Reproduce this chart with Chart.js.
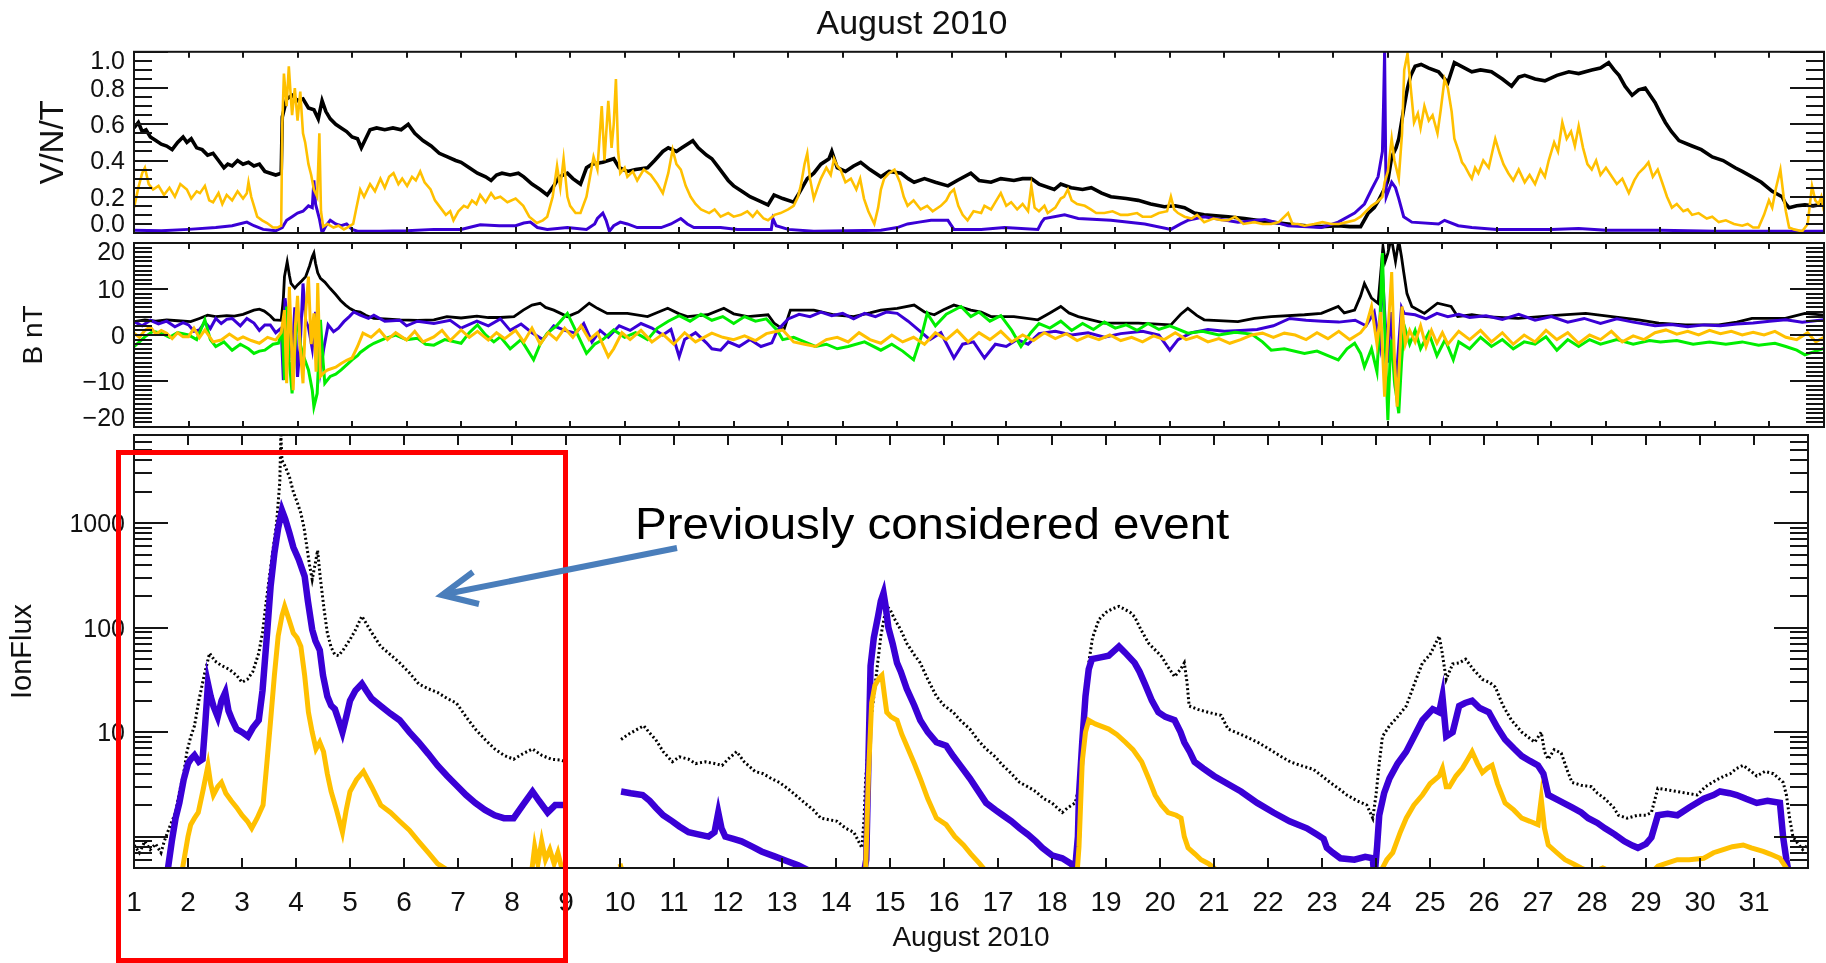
<!DOCTYPE html>
<html>
<head>
<meta charset="utf-8">
<script src="https://cdn.jsdelivr.net/npm/chart.js@4.4.1/dist/chart.umd.min.js"></script>
<style>
  html, body { margin: 0; padding: 0; background: #fff; }
  body { position: relative; width: 1826px; height: 963px; overflow: hidden; }
  canvas { position: absolute; left: 0; }
  #box { position: absolute; left: 116px; top: 450px; width: 452px; height: 513px; box-sizing: border-box; border: 5px solid #ff0000; }
  #arrow { position: absolute; left: 0; top: 0; }
  #note { position: absolute; left: 635px; top: 501px; font: 44px "Liberation Sans", Arial, sans-serif; line-height: 46px; color: #000; white-space: nowrap; transform: scaleX(1.08); transform-origin: left top; }
</style>
</head>
<body>
<canvas id="vnt" width="1826" height="238" style="top:0px"></canvas>
<canvas id="bfield" width="1826" height="193" style="top:238px"></canvas>
<canvas id="ionflux" width="1826" height="532" style="top:431px"></canvas>
<div id="box"></div>
<svg id="arrow" width="1826" height="963">
  <line x1="677" y1="548" x2="446" y2="594" stroke="#4a7ebb" stroke-width="6"/>
  <polyline points="473,572 442,595 479,604" fill="none" stroke="#4a7ebb" stroke-width="6" stroke-linejoin="miter"/>
</svg>
<div id="note">Previously considered event</div>
<script>
// day of month on every panel; 32 = end of the month
const days = [1,2,3,4,5,6,7,8,9,10,11,12,13,14,15,16,17,18,19,20,21,22,23,24,25,26,27,28,29,30,31,32];

// ---- panel 1: V/N/T (normalised) ----
const vntTicks = [0, 0.2, 0.4, 0.6, 0.8, 1.0];
const vntLabels = ["0.0", "0.2", "0.4", "0.6", "0.8", "1.0"];

const vntBlack = [[1.0,0.58],[1.08,0.61],[1.15,0.56],[1.22,0.57],[1.3,0.53],[1.4,0.51],[1.5,0.49],[1.6,0.48],[1.7,0.46],[1.8,0.5],[1.9,0.53],[1.97,0.5],[2.05,0.52],[2.15,0.47],[2.25,0.46],[2.35,0.43],[2.45,0.44],[2.55,0.4],[2.65,0.36],[2.72,0.38],[2.8,0.37],[2.9,0.4],[3.0,0.38],[3.1,0.39],[3.2,0.37],[3.3,0.38],[3.4,0.34],[3.5,0.33],[3.6,0.32],[3.7,0.33],[3.72,0.64],[3.8,0.74],[3.9,0.76],[4.0,0.73],[4.1,0.74],[4.2,0.69],[4.3,0.68],[4.38,0.63],[4.45,0.73],[4.52,0.67],[4.6,0.63],[4.7,0.6],[4.8,0.58],[4.9,0.56],[5.0,0.53],[5.1,0.52],[5.17,0.47],[5.25,0.52],[5.33,0.57],[5.45,0.58],[5.6,0.57],[5.75,0.58],[5.9,0.57],[6.03,0.6],[6.15,0.55],[6.3,0.51],[6.45,0.48],[6.6,0.44],[6.75,0.42],[6.9,0.4],[7.0,0.39],[7.15,0.36],[7.3,0.33],[7.45,0.31],[7.55,0.29],[7.65,0.32],[7.75,0.33],[7.9,0.32],[8.05,0.33],[8.15,0.31],[8.3,0.27],[8.45,0.24],[8.58,0.21],[8.7,0.26],[8.8,0.31],[8.95,0.33],[9.05,0.3],[9.19,0.27],[9.3,0.36],[9.4,0.38],[9.6,0.39],[9.8,0.41],[9.9,0.36],[10.05,0.34],[10.2,0.35],[10.42,0.36],[10.55,0.4],[10.7,0.45],[10.8,0.47],[10.95,0.45],[11.05,0.47],[11.2,0.5],[11.25,0.51],[11.35,0.47],[11.5,0.43],[11.6,0.41],[11.7,0.37],[11.8,0.33],[11.9,0.29],[12.0,0.26],[12.15,0.23],[12.3,0.2],[12.45,0.18],[12.63,0.155],[12.74,0.21],[12.9,0.19],[13.1,0.17],[13.2,0.22],[13.35,0.3],[13.47,0.33],[13.6,0.38],[13.75,0.41],[13.8,0.45],[13.9,0.36],[14.05,0.34],[14.2,0.37],[14.33,0.39],[14.5,0.35],[14.7,0.31],[14.85,0.34],[15.07,0.33],[15.2,0.3],[15.31,0.28],[15.5,0.3],[15.7,0.28],[15.93,0.26],[16.1,0.29],[16.35,0.33],[16.5,0.29],[16.72,0.28],[16.9,0.3],[17.14,0.29],[17.3,0.3],[17.46,0.3],[17.6,0.27],[17.88,0.24],[18.0,0.27],[18.19,0.25],[18.4,0.24],[18.56,0.25],[18.75,0.22],[18.92,0.2],[19.2,0.19],[19.42,0.18],[19.65,0.16],[19.9,0.145],[20.1,0.15],[20.27,0.14],[20.45,0.11],[20.63,0.1],[20.85,0.095],[21.07,0.09],[21.37,0.08],[21.6,0.07],[21.86,0.06],[22.17,0.05],[22.5,0.04],[22.78,0.035],[23.09,0.04],[23.3,0.035],[23.5,0.035],[23.64,0.11],[23.75,0.14],[23.83,0.18],[23.95,0.25],[24.0,0.29],[24.07,0.42],[24.15,0.47],[24.2,0.52],[24.3,0.7],[24.36,0.8],[24.42,0.87],[24.5,0.92],[24.61,0.93],[24.75,0.91],[24.93,0.89],[25.1,0.83],[25.22,0.94],[25.35,0.92],[25.54,0.89],[25.7,0.9],[25.9,0.89],[26.1,0.85],[26.27,0.81],[26.4,0.86],[26.51,0.87],[26.7,0.85],[26.88,0.84],[27.1,0.87],[27.32,0.89],[27.5,0.88],[27.74,0.9],[27.9,0.91],[28.05,0.94],[28.15,0.9],[28.24,0.87],[28.35,0.81],[28.48,0.76],[28.6,0.79],[28.72,0.8],[28.9,0.72],[29.0,0.66],[29.09,0.61],[29.2,0.56],[29.34,0.51],[29.58,0.48],[29.75,0.46],[29.95,0.42],[30.15,0.4],[30.37,0.36],[30.5,0.34],[30.68,0.31],[30.85,0.28],[31.05,0.23],[31.23,0.2],[31.3,0.16],[31.36,0.14],[31.5,0.15],[31.65,0.155],[31.8,0.15],[32.0,0.16]];

const vntGold = [[1.0,0.14],[1.08,0.25],[1.15,0.33],[1.2,0.36],[1.27,0.27],[1.35,0.24],[1.45,0.26],[1.55,0.21],[1.65,0.25],[1.75,0.2],[1.85,0.27],[1.97,0.24],[2.05,0.19],[2.15,0.23],[2.21,0.22],[2.3,0.26],[2.38,0.18],[2.45,0.17],[2.55,0.22],[2.62,0.16],[2.7,0.21],[2.8,0.18],[2.9,0.23],[3.0,0.19],[3.07,0.22],[3.1,0.28],[3.15,0.2],[3.26,0.09],[3.35,0.07],[3.44,0.055],[3.55,0.03],[3.63,0.03],[3.7,0.04],[3.72,0.6],[3.75,0.88],[3.8,0.7],[3.84,0.92],[3.87,0.78],[3.9,0.65],[3.95,0.8],[4.0,0.62],[4.05,0.78],[4.1,0.55],[4.14,0.5],[4.2,0.38],[4.25,0.32],[4.3,0.24],[4.36,0.2],[4.4,0.55],[4.43,0.12],[4.47,0.035],[4.55,0.05],[4.66,0.03],[4.75,0.04],[4.85,0.02],[4.91,0.03],[5.02,0.05],[5.08,0.14],[5.15,0.24],[5.22,0.2],[5.33,0.27],[5.42,0.23],[5.52,0.3],[5.6,0.25],[5.68,0.31],[5.76,0.33],[5.85,0.27],[5.92,0.3],[6.01,0.26],[6.1,0.31],[6.17,0.29],[6.25,0.34],[6.33,0.28],[6.44,0.24],[6.52,0.18],[6.62,0.14],[6.72,0.1],[6.8,0.12],[6.86,0.07],[6.95,0.12],[7.05,0.15],[7.12,0.14],[7.2,0.18],[7.28,0.16],[7.35,0.21],[7.45,0.17],[7.55,0.22],[7.62,0.19],[7.72,0.2],[7.85,0.17],[8.0,0.19],[8.14,0.15],[8.25,0.09],[8.39,0.055],[8.5,0.07],[8.58,0.09],[8.68,0.2],[8.76,0.37],[8.82,0.25],[8.88,0.41],[8.95,0.2],[9.0,0.15],[9.1,0.11],[9.19,0.11],[9.3,0.2],[9.43,0.42],[9.5,0.35],[9.58,0.7],[9.63,0.4],[9.7,0.73],[9.76,0.47],[9.8,0.6],[9.84,0.85],[9.88,0.45],[9.92,0.33],[10.0,0.36],[10.05,0.31],[10.15,0.34],[10.23,0.29],[10.35,0.35],[10.48,0.32],[10.6,0.27],[10.7,0.22],[10.8,0.33],[10.88,0.46],[10.95,0.38],[11.03,0.35],[11.12,0.26],[11.21,0.2],[11.3,0.16],[11.4,0.13],[11.55,0.11],[11.65,0.13],[11.76,0.09],[11.9,0.11],[12.0,0.09],[12.13,0.1],[12.25,0.12],[12.35,0.09],[12.43,0.12],[12.55,0.08],[12.63,0.07],[12.75,0.1],[12.86,0.11],[13.0,0.13],[13.1,0.15],[13.18,0.2],[13.23,0.26],[13.3,0.38],[13.35,0.44],[13.4,0.3],[13.47,0.19],[13.55,0.26],[13.6,0.3],[13.7,0.36],[13.78,0.32],[13.84,0.41],[13.9,0.37],[13.96,0.35],[14.05,0.28],[14.15,0.3],[14.25,0.24],[14.32,0.3],[14.39,0.19],[14.47,0.12],[14.58,0.05],[14.65,0.14],[14.7,0.24],[14.76,0.3],[14.85,0.33],[14.95,0.35],[15.05,0.28],[15.12,0.2],[15.19,0.15],[15.3,0.18],[15.43,0.13],[15.55,0.15],[15.65,0.12],[15.8,0.15],[15.9,0.18],[15.97,0.22],[16.04,0.24],[16.12,0.15],[16.2,0.1],[16.29,0.07],[16.4,0.12],[16.54,0.11],[16.6,0.15],[16.72,0.13],[16.8,0.17],[16.9,0.22],[17.0,0.15],[17.09,0.17],[17.2,0.13],[17.3,0.16],[17.4,0.12],[17.46,0.26],[17.52,0.14],[17.6,0.12],[17.7,0.15],[17.76,0.11],[17.9,0.14],[18.0,0.19],[18.06,0.2],[18.13,0.24],[18.2,0.18],[18.3,0.16],[18.44,0.15],[18.55,0.13],[18.65,0.11],[18.8,0.11],[18.95,0.12],[19.1,0.1],[19.23,0.1],[19.4,0.11],[19.5,0.09],[19.66,0.09],[19.8,0.11],[19.95,0.12],[20.02,0.2],[20.08,0.13],[20.15,0.11],[20.27,0.09],[20.4,0.08],[20.5,0.1],[20.63,0.06],[20.8,0.08],[20.95,0.07],[21.07,0.07],[21.2,0.09],[21.35,0.05],[21.55,0.06],[21.7,0.05],[21.86,0.05],[22.0,0.06],[22.17,0.11],[22.25,0.05],[22.35,0.05],[22.47,0.04],[22.65,0.05],[22.8,0.06],[22.96,0.05],[23.1,0.05],[23.25,0.06],[23.39,0.07],[23.5,0.09],[23.6,0.12],[23.7,0.15],[23.8,0.17],[23.9,0.2],[23.94,0.28],[24.0,0.34],[24.07,0.52],[24.12,0.4],[24.2,0.3],[24.26,0.55],[24.3,0.9],[24.36,0.99],[24.42,0.8],[24.48,0.61],[24.55,0.66],[24.6,0.58],[24.67,0.7],[24.75,0.62],[24.82,0.65],[24.91,0.55],[24.97,0.68],[25.04,0.85],[25.1,0.8],[25.17,0.67],[25.22,0.52],[25.3,0.45],[25.36,0.39],[25.41,0.37],[25.5,0.32],[25.54,0.3],[25.6,0.36],[25.66,0.33],[25.75,0.4],[25.85,0.36],[25.97,0.52],[26.05,0.44],[26.12,0.38],[26.21,0.33],[26.3,0.29],[26.4,0.35],[26.51,0.28],[26.6,0.32],[26.7,0.27],[26.8,0.35],[26.88,0.31],[26.95,0.4],[27.05,0.5],[27.12,0.45],[27.2,0.61],[27.28,0.52],[27.36,0.56],[27.43,0.48],[27.5,0.59],[27.58,0.47],[27.66,0.38],[27.74,0.35],[27.82,0.4],[27.9,0.32],[28.0,0.36],[28.11,0.31],[28.2,0.27],[28.3,0.3],[28.42,0.22],[28.52,0.29],[28.6,0.33],[28.7,0.36],[28.78,0.39],[28.86,0.31],[28.95,0.35],[29.03,0.28],[29.12,0.2],[29.21,0.14],[29.3,0.16],[29.42,0.12],[29.5,0.13],[29.58,0.1],[29.7,0.11],[29.85,0.08],[29.95,0.09],[30.07,0.06],[30.2,0.07],[30.35,0.05],[30.5,0.04],[30.6,0.05],[30.7,0.03],[30.8,0.03],[30.9,0.1],[30.99,0.18],[31.05,0.14],[31.12,0.25],[31.2,0.35],[31.26,0.2],[31.3,0.12],[31.36,0.03],[31.45,0.02],[31.6,0.01],[31.7,0.05],[31.78,0.26],[31.84,0.18],[31.9,0.16],[31.95,0.2],[32.0,0.12]];

const vntBlue = [[1.0,0.015],[1.5,0.012],[2.0,0.02],[2.5,0.03],[2.8,0.04],[3.07,0.06],[3.2,0.04],[3.37,0.02],[3.6,0.012],[3.72,0.03],[3.8,0.07],[3.9,0.09],[4.0,0.11],[4.1,0.12],[4.2,0.15],[4.27,0.14],[4.3,0.29],[4.33,0.16],[4.4,0.08],[4.45,0.0],[4.52,0.04],[4.6,0.07],[4.7,0.05],[4.8,0.04],[4.9,0.05],[5.0,0.02],[5.1,0.01],[5.5,0.01],[6.0,0.012],[6.5,0.02],[7.0,0.02],[7.35,0.045],[7.7,0.04],[8.0,0.04],[8.15,0.055],[8.27,0.06],[8.4,0.03],[8.58,0.02],[8.95,0.03],[9.3,0.02],[9.45,0.05],[9.5,0.08],[9.6,0.11],[9.66,0.07],[9.72,0.01],[9.8,0.04],[9.92,0.06],[10.05,0.05],[10.23,0.03],[10.67,0.03],[10.85,0.05],[11.03,0.08],[11.15,0.05],[11.27,0.03],[11.76,0.03],[12.07,0.02],[12.69,0.02],[12.72,0.08],[12.78,0.04],[13.0,0.02],[13.47,0.01],[14.7,0.015],[15.0,0.03],[15.19,0.05],[15.4,0.06],[15.62,0.07],[15.93,0.07],[16.04,0.02],[16.54,0.02],[16.97,0.03],[17.58,0.02],[17.65,0.06],[17.7,0.08],[18.07,0.1],[18.32,0.08],[18.92,0.07],[19.54,0.05],[20.02,0.02],[20.2,0.05],[20.33,0.07],[20.63,0.09],[21.25,0.06],[21.74,0.075],[22.17,0.04],[22.78,0.03],[23.09,0.06],[23.39,0.11],[23.57,0.16],[23.7,0.24],[23.82,0.31],[23.9,0.45],[23.92,0.7],[23.94,1.0],[23.96,0.4],[23.97,0.2],[24.07,0.28],[24.14,0.25],[24.2,0.19],[24.29,0.09],[24.44,0.06],[24.93,0.05],[25.04,0.07],[25.29,0.04],[25.54,0.03],[26.0,0.02],[27.0,0.02],[27.5,0.025],[28.0,0.015],[29.0,0.015],[30.0,0.01],[31.0,0.01],[32.0,0.01]];

// ---- panel 2: B nT ----
const bTicks = [-20, -10, 0, 10, 20];
const bLabels = ["\u221220", "\u221210", "0", "10", "20"];

const bBlack = [[1.0,2.9],[1.2,3.3],[1.4,3.0],[1.6,3.3],[1.8,3.1],[2.04,2.9],[2.2,3.6],[2.35,4.3],[2.5,4.0],[2.7,4.2],[2.84,4.1],[3.0,4.5],[3.2,5.4],[3.3,5.6],[3.39,5.2],[3.5,4.2],[3.57,3.3],[3.7,3.2],[3.74,8],[3.76,12.7],[3.81,15.9],[3.85,13],[3.88,11.2],[3.95,10.2],[4.0,10.9],[4.08,11.8],[4.15,12.7],[4.22,15],[4.27,17.0],[4.3,17.8],[4.33,15.6],[4.37,13.5],[4.42,12.3],[4.5,11.5],[4.6,10.1],[4.7,8.8],[4.79,7.5],[4.88,6.5],[4.97,5.7],[5.05,5.2],[5.15,5.0],[5.25,4.3],[5.4,3.6],[5.6,3.5],[5.88,3.3],[6.2,3.2],[6.5,3.3],[6.74,4.0],[7.0,3.7],[7.29,4.1],[7.5,3.8],[7.72,3.8],[7.97,4.0],[8.14,5.4],[8.3,6.5],[8.45,6.9],[8.55,6.0],[8.7,5.4],[8.95,4.0],[9.15,5.0],[9.35,6.9],[9.5,5.8],[9.68,4.7],[10.05,4.7],[10.42,4.0],[10.6,4.9],[10.79,5.8],[11.0,4.6],[11.15,4.0],[11.52,4.4],[11.82,5.8],[12.0,4.6],[12.26,4.0],[12.63,4.4],[12.74,2.6],[12.92,1.1],[13.04,5.4],[13.47,5.4],[13.84,4.4],[14.2,4.0],[14.5,4.8],[14.7,5.4],[15.0,5.8],[15.31,6.5],[15.5,5.0],[15.68,4.4],[15.85,5.5],[16.04,6.5],[16.35,5.4],[16.54,5.0],[16.72,4.0],[17.14,4.0],[17.58,3.3],[17.8,4.8],[18.0,6.2],[18.15,4.8],[18.32,4.0],[18.8,2.6],[19.42,2.6],[20.02,2.2],[20.2,4.5],[20.33,5.8],[20.5,4.2],[20.63,3.3],[21.25,2.9],[21.55,3.6],[21.86,4.0],[22.47,4.4],[22.78,4.7],[23.09,6.2],[23.2,4.8],[23.39,5.4],[23.5,8.5],[23.57,11.2],[23.7,8],[23.82,6.9],[23.88,15],[23.91,19.2],[23.95,16],[24.0,17.8],[24.05,20.5],[24.08,20],[24.14,16],[24.2,20.5],[24.25,17],[24.29,13.7],[24.35,9],[24.44,6.2],[24.67,4.7],[24.91,6.9],[25.16,6.2],[25.28,4.0],[25.54,4.4],[25.78,4.0],[26.39,3.6],[26.8,4.0],[27.14,4.3],[27.63,4.7],[28.11,4.0],[28.6,3.3],[28.97,2.6],[29.46,2.2],[30.07,2.2],[30.4,2.8],[30.68,3.6],[31.29,3.6],[31.65,4.7],[32.0,4.3]];

const bBlue = [[1.0,2.9],[1.15,2.0],[1.3,3.2],[1.45,2.4],[1.6,3.0],[1.75,1.8],[1.9,2.7],[2.0,2.2],[2.1,0.8],[2.2,1.1],[2.3,2.8],[2.4,1.4],[2.5,3.6],[2.6,2.5],[2.7,3.4],[2.8,3.6],[2.95,2.0],[3.07,3.6],[3.2,2.6],[3.3,1.0],[3.4,2.2],[3.5,2.2],[3.6,0.5],[3.7,1.5],[3.74,-9.8],[3.77,8.0],[3.8,5],[3.85,1.2],[3.9,-5],[3.95,6],[4.0,-9.1],[4.05,-2],[4.1,11.2],[4.15,3],[4.2,1.7],[4.27,-3],[4.33,5],[4.38,-1],[4.42,-7.7],[4.48,-3],[4.56,2.2],[4.66,0.7],[4.75,1.5],[4.85,2.9],[4.95,4.0],[5.03,5.0],[5.15,4.3],[5.3,3.6],[5.4,4.3],[5.6,3.0],[5.88,3.2],[6.0,2.0],[6.2,3.0],[6.5,2.5],[6.8,3.2],[7.0,1.5],[7.29,3.0],[7.5,2.0],[7.72,3.5],[7.9,1.0],[8.1,2.4],[8.3,0.5],[8.5,-1.0],[8.7,2.0],[8.9,1.0],[9.1,0.4],[9.25,2.5],[9.4,-1.5],[9.55,1.0],[9.7,-0.5],[9.9,2.0],[10.1,1.0],[10.3,2.5],[10.5,1.5],[10.7,0.0],[10.85,1.2],[11.0,-4.7],[11.1,-1.0],[11.3,0.5],[11.5,-1.7],[11.6,-3.0],[11.76,-3.3],[11.9,-1.5],[12.1,-2.5],[12.3,-1.0],[12.5,-2.5],[12.7,-1.7],[12.8,1.0],[13.0,3.5],[13.2,4.5],[13.4,4.0],[13.6,5.0],[13.8,4.2],[14.0,4.7],[14.2,3.5],[14.4,4.7],[14.6,4.0],[14.8,5.0],[15.0,4.7],[15.2,3.0],[15.4,1.0],[15.6,-1.0],[15.8,0.5],[16.04,-5.0],[16.2,-2.0],[16.4,-1.5],[16.6,-5.0],[16.8,-2.0],[17.0,-2.5],[17.2,-1.0],[17.4,-2.0],[17.6,0.3],[17.9,0.8],[18.2,0.0],[18.5,0.5],[18.8,-0.5],[19.1,0.3],[19.5,0.8],[19.8,0.0],[20.0,-3.3],[20.15,-1.0],[20.4,0.5],[20.7,1.2],[21.0,0.8],[21.3,1.0],[21.6,1.2],[21.9,2.0],[22.2,3.6],[22.5,3.2],[22.8,3.0],[23.1,2.8],[23.4,3.2],[23.6,2.0],[23.75,5],[23.85,-2],[23.9,13.7],[23.95,3],[24.0,-6],[24.05,5],[24.1,-3],[24.14,-12],[24.2,-2],[24.25,6],[24.3,4.7],[24.5,4.4],[24.7,3.5],[24.9,4.7],[25.1,4.0],[25.3,4.5],[25.5,3.8],[25.8,4.2],[26.1,3.4],[26.4,4.5],[26.7,3.2],[27.0,4.0],[27.3,2.8],[27.6,3.6],[27.9,2.5],[28.2,3.5],[28.5,2.8],[28.9,2.0],[29.2,2.3],[29.5,1.8],[29.8,2.2],[30.1,2.0],[30.4,2.4],[30.7,2.6],[31.0,3.0],[31.3,3.3],[31.6,2.8],[32.0,3.3]];

const bGreen = [[1.0,-2.5],[1.1,-1.5],[1.2,-0.4],[1.35,0.8],[1.5,0.4],[1.65,-0.5],[1.8,0.5],[2.0,0.0],[2.15,-1.0],[2.3,3.3],[2.4,-1.0],[2.5,-2.5],[2.65,-1.5],[2.8,-3.3],[2.95,-2.0],[3.1,-3.0],[3.2,-4.0],[3.3,-3.5],[3.4,-3.3],[3.55,-2.0],[3.65,-1.8],[3.72,1.1],[3.76,-9.8],[3.8,6.2],[3.85,-5.8],[3.9,-12.7],[3.95,-3],[4.0,5.4],[4.05,-2],[4.1,-4.3],[4.2,-7.6],[4.27,-12],[4.3,-15.6],[4.36,-12.7],[4.42,3.3],[4.47,-6],[4.5,-10.5],[4.6,-9.0],[4.7,-8.5],[4.8,-7.6],[4.9,-6.5],[5.0,-5.4],[5.1,-4.5],[5.15,-3.8],[5.3,-2.5],[5.4,-1.8],[5.6,-0.8],[5.8,0.0],[6.0,-1.0],[6.2,-0.7],[6.35,-2.0],[6.5,-2.2],[6.7,-1.0],[7.0,-1.8],[7.15,0.5],[7.3,2.2],[7.45,0.0],[7.6,-1.5],[7.72,-0.4],[7.9,-3.0],[8.1,-1.0],[8.33,-5.4],[8.45,-2.0],[8.58,0.4],[8.75,2.0],[8.95,4.7],[9.1,1.0],[9.3,-4.0],[9.45,-2.0],[9.6,-1.0],[9.8,1.1],[10.0,-0.5],[10.2,0.5],[10.42,-1.0],[10.6,1.5],[10.8,3.0],[11.0,4.2],[11.2,3.0],[11.4,4.5],[11.6,3.2],[11.8,4.0],[12.0,2.5],[12.2,4.0],[12.4,3.0],[12.6,3.5],[12.8,1.0],[12.9,-1.0],[13.1,-0.5],[13.3,-1.5],[13.5,-2.5],[13.7,-2.0],[13.9,-3.0],[14.1,-2.5],[14.4,-1.5],[14.7,-3.3],[14.9,-2.0],[15.1,-3.5],[15.3,-5.4],[15.45,0.0],[15.55,4.7],[15.7,2.0],[15.9,4.5],[16.17,6.2],[16.35,4.0],[16.5,5.0],[16.7,3.0],[16.9,4.2],[17.1,1.0],[17.27,-2.5],[17.45,0.5],[17.6,2.5],[17.8,1.5],[18.0,3.0],[18.2,1.0],[18.4,2.5],[18.6,1.2],[18.8,2.8],[19.0,1.5],[19.2,2.2],[19.4,1.0],[19.6,2.5],[19.8,1.2],[20.0,2.0],[20.33,0.4],[20.6,0.8],[20.9,0.0],[21.2,0.6],[21.5,0.2],[21.7,-1.5],[21.86,-3.3],[22.1,-3.0],[22.47,-4.0],[22.7,-3.5],[22.9,-4.5],[23.09,-5.4],[23.25,-3.0],[23.39,-1.8],[23.5,-4],[23.57,-6.9],[23.7,-3],[23.8,-8],[23.86,5],[23.9,17.8],[23.94,2],[24.0,-18.5],[24.04,-5],[24.07,-1.0],[24.12,-10],[24.2,-17],[24.25,-6],[24.3,2.0],[24.4,-2.0],[24.5,1.0],[24.6,-3.0],[24.75,0.5],[24.9,-4.5],[25.05,-1.0],[25.2,-5.4],[25.3,-1.5],[25.5,-3.0],[25.7,-0.5],[25.9,-2.5],[26.1,-1.0],[26.3,-3.0],[26.5,-1.5],[26.7,-2.0],[26.9,-0.4],[27.1,-3.3],[27.3,-1.0],[27.5,-2.5],[27.7,-1.0],[27.9,-2.0],[28.2,-1.0],[28.5,-2.0],[28.8,-1.2],[29.0,-1.5],[29.3,-1.2],[29.6,-2.0],[29.9,-1.5],[30.2,-2.0],[30.5,-1.5],[30.8,-2.2],[31.1,-1.8],[31.3,-2.5],[31.5,-3.3],[31.65,-4.3],[31.85,-3.5],[32.0,-2.9]];

const bGold = [[1.0,0.4],[1.1,-0.5],[1.2,1.0],[1.3,1.8],[1.4,0.2],[1.5,1.0],[1.6,0.4],[1.7,-0.8],[1.8,0.5],[1.9,-0.4],[2.0,-0.4],[2.1,1.5],[2.2,-0.6],[2.3,1.1],[2.45,-1.5],[2.6,-1.1],[2.75,0.2],[2.9,-1.0],[3.0,-0.4],[3.15,-1.2],[3.3,-1.8],[3.45,-0.5],[3.6,-1.1],[3.7,0.5],[3.76,5.4],[3.8,-10.5],[3.85,10.5],[3.92,-12],[3.96,2],[4.0,8.5],[4.05,-3],[4.1,-10.5],[4.15,5],[4.2,12.7],[4.25,-2],[4.3,4.7],[4.34,-8],[4.37,11.3],[4.42,-9.0],[4.5,-8.0],[4.55,-7.6],[4.7,-7.0],[4.8,-6.2],[4.9,-5.5],[5.0,-5.0],[5.1,-2.5],[5.2,0.4],[5.35,-0.5],[5.5,1.1],[5.65,-1.0],[5.8,0.5],[6.0,-1.1],[6.15,0.8],[6.3,-1.5],[6.5,-0.4],[6.65,1.0],[6.8,-1.2],[7.0,1.1],[7.15,-0.5],[7.3,0.8],[7.5,-1.1],[7.65,0.5],[7.8,-0.8],[8.0,1.0],[8.15,-1.5],[8.3,1.5],[8.45,-2.0],[8.6,0.5],[8.75,-1.0],[8.9,1.5],[9.05,-0.5],[9.2,2.0],[9.35,-1.0],[9.5,0.5],[9.7,-4.7],[9.8,-3.0],[9.95,0.5],[10.1,-1.0],[10.3,1.0],[10.5,-1.5],[10.7,0.2],[10.9,-2.0],[11.1,0.5],[11.3,-1.5],[11.6,0.4],[11.8,-0.5],[12.0,-1.0],[12.2,-0.2],[12.4,-1.2],[12.6,0.3],[12.9,1.1],[13.1,-1.5],[13.3,-2.0],[13.5,-2.5],[13.7,-1.0],[13.9,-0.5],[14.1,-1.5],[14.3,0.5],[14.5,-1.0],[14.7,-1.8],[14.9,0.0],[15.1,-1.5],[15.3,-0.5],[15.5,-2.0],[15.7,0.5],[15.9,-1.0],[16.1,1.0],[16.3,-1.5],[16.5,0.5],[16.7,-1.0],[16.9,0.8],[17.1,-1.5],[17.3,0.0],[17.5,-1.2],[17.7,0.5],[17.9,-0.8],[18.1,0.3],[18.3,-1.2],[18.5,-0.2],[18.7,-1.0],[18.9,0.0],[19.1,-1.2],[19.3,-0.5],[19.5,-1.5],[19.7,-0.2],[19.9,-1.0],[20.1,0.5],[20.3,-1.0],[20.5,-0.3],[20.7,-1.5],[20.9,-0.8],[21.1,-1.8],[21.3,-1.0],[21.5,0.0],[21.7,0.4],[21.9,-0.5],[22.1,0.4],[22.3,0.0],[22.5,-1.0],[22.7,0.5],[22.9,-0.8],[23.1,0.8],[23.3,-1.0],[23.5,0.5],[23.6,2.0],[23.7,6.2],[23.8,-2],[23.87,5],[23.94,-13.4],[24.0,0],[24.07,13.7],[24.12,-5],[24.17,-15.6],[24.22,-4],[24.26,6.2],[24.32,-2],[24.4,1.0],[24.5,-1.5],[24.6,2.0],[24.7,-2.5],[24.8,1.0],[24.9,-1.8],[25.0,0.5],[25.1,-2.0],[25.3,0.8],[25.5,-1.0],[25.7,1.0],[25.9,-1.5],[26.1,0.5],[26.3,-2.0],[26.5,0.0],[26.7,-1.5],[26.9,1.0],[27.1,-1.0],[27.3,0.5],[27.5,-1.8],[27.7,0.0],[27.9,-1.0],[28.1,0.8],[28.3,-1.5],[28.5,-0.2],[28.7,-1.0],[28.9,0.5],[29.1,1.1],[29.3,0.2],[29.5,0.8],[29.7,0.0],[29.9,1.0],[30.1,0.3],[30.3,0.8],[30.5,0.0],[30.7,0.6],[30.9,0.0],[31.1,0.8],[31.3,-0.5],[31.5,-1.0],[31.7,0.5],[31.85,-1.5],[32.0,-0.5]];

// ---- panel 3: IonFlux (log) ----
const fluxTicks = [1, 10, 100, 1000];
const fluxLabels = ["", "10", "100", "1000"];  // the "1" sits under the red box in the original

const fluxBlack = [[1.0,0.83],[1.1,0.7],[1.2,0.9],[1.3,0.75],[1.4,0.85],[1.5,0.7],[1.56,0.9],[1.65,1.2],[1.77,1.7],[1.85,2.8],[1.92,4.0],[1.98,6.5],[2.05,9],[2.12,11.5],[2.2,20],[2.3,35],[2.4,57],[2.5,48],[2.6,44],[2.76,40],[2.9,35],[3.0,30],[3.1,32],[3.2,38],[3.31,57],[3.38,90],[3.46,199],[3.55,450],[3.64,1000],[3.7,2500],[3.72,7000],[3.74,4000],[3.8,3500],[3.88,2760],[3.95,2000],[4.02,1600],[4.09,1250],[4.15,900],[4.2,600],[4.25,400],[4.3,290],[4.36,420],[4.4,550],[4.45,300],[4.52,150],[4.58,89],[4.65,65],[4.72,55],[4.79,54],[4.88,62],[5.0,77],[5.1,95],[5.22,129],[5.3,110],[5.4,90],[5.57,66],[5.7,58],[5.92,46],[6.1,37],[6.27,29],[6.45,26],[6.62,24],[6.8,21],[6.97,19],[7.15,14],[7.32,10.7],[7.5,8.5],[7.68,6.9],[7.85,6.0],[8.03,5.5],[8.2,6.2],[8.38,6.9],[8.55,6.0],[8.73,5.5],[8.9,5.4],[9.0,5.2],[9.5,null],[10.02,8.5],[10.15,9.5],[10.3,10.5],[10.44,11.5],[10.55,9.8],[10.66,8.5],[10.8,6.5],[10.97,5.2],[11.1,5.8],[11.27,5.5],[11.4,5.0],[11.58,5.2],[11.75,5.0],[11.89,4.8],[12.0,5.5],[12.16,6.5],[12.3,5.2],[12.5,4.2],[12.65,4.0],[12.8,3.6],[12.95,3.3],[13.1,2.9],[13.25,2.5],[13.42,2.1],[13.58,1.8],[13.72,1.5],[13.87,1.45],[14.02,1.4],[14.18,1.2],[14.33,1.1],[14.48,0.78],[14.52,1.5],[14.55,3.6],[14.62,10],[14.7,22],[14.77,45],[14.83,83],[14.9,130],[14.94,160],[15.0,150],[15.07,125],[15.2,95],[15.31,71],[15.45,55],[15.56,46],[15.7,32],[15.86,22],[16.0,18],[16.17,15.5],[16.3,13],[16.48,10.7],[16.62,8.5],[16.78,6.9],[16.95,5.8],[17.09,4.8],[17.25,4.0],[17.4,3.3],[17.55,3.0],[17.7,2.7],[17.85,2.3],[18.0,2.1],[18.19,1.7],[18.3,1.9],[18.43,2.1],[18.5,3.0],[18.56,5.2],[18.62,15],[18.68,46],[18.75,80],[18.87,120],[19.0,140],[19.1,150],[19.24,160],[19.35,150],[19.45,140],[19.53,127],[19.65,95],[19.79,71],[19.9,62],[20.03,53],[20.15,42],[20.27,34],[20.38,40],[20.45,46],[20.5,30],[20.54,17.8],[20.7,16.5],[20.89,15.5],[21.0,15],[21.13,14.5],[21.26,10.7],[21.5,9.5],[21.81,8.0],[22.1,6.5],[22.25,5.8],[22.41,5.2],[22.6,4.8],[22.84,4.4],[23.0,3.8],[23.15,3.3],[23.3,2.9],[23.46,2.5],[23.65,2.2],[23.83,2.0],[23.94,1.5],[24.0,2.5],[24.06,5],[24.12,9.1],[24.25,11.5],[24.4,14],[24.56,17.8],[24.7,28],[24.86,46],[25.0,55],[25.1,70],[25.17,83],[25.22,60],[25.3,32],[25.42,45],[25.54,46],[25.66,50],[25.8,40],[25.97,32],[26.1,30],[26.21,27],[26.35,18],[26.51,13],[26.7,10],[26.94,8],[27.06,10],[27.12,6.5],[27.19,5.5],[27.3,6.8],[27.43,6.3],[27.55,4.2],[27.63,3.3],[27.8,3.1],[27.99,3.0],[28.1,2.6],[28.24,2.3],[28.4,1.9],[28.49,1.6],[28.65,1.5],[28.85,1.6],[29.0,1.6],[29.1,1.7],[29.22,2.9],[29.4,2.8],[29.58,2.7],[29.75,2.6],[29.95,2.5],[30.1,3.0],[30.31,3.5],[30.45,3.8],[30.56,4.0],[30.68,4.5],[30.8,4.8],[30.95,4.2],[31.05,3.8],[31.2,4.2],[31.36,4.0],[31.54,3.3],[31.6,2.5],[31.66,1.5],[31.72,1.0],[31.78,0.9],[31.9,0.75],[32.0,0.83]];

const fluxBlue = [[1.0,0.3],[1.5,0.3],[1.63,0.5],[1.7,0.9],[1.77,1.5],[1.84,2.1],[1.92,3.5],[2.0,5],[2.05,5.5],[2.12,6],[2.2,5.2],[2.27,5.5],[2.32,12],[2.37,29],[2.42,22],[2.47,17.8],[2.55,14],[2.62,20],[2.69,24],[2.75,16],[2.82,13],[2.9,10.7],[3.0,10],[3.11,9.1],[3.2,11],[3.31,13],[3.38,25],[3.46,83],[3.53,250],[3.6,520],[3.67,900],[3.74,1330],[3.8,1100],[3.88,800],[3.95,590],[4.05,450],[4.16,310],[4.22,180],[4.3,96],[4.36,75],[4.44,61],[4.5,35],[4.58,22],[4.65,18],[4.72,16.6],[4.79,13],[4.86,10],[4.93,14],[5.0,20],[5.1,25],[5.22,29],[5.3,25],[5.4,21],[5.57,17.8],[5.75,15],[5.92,13],[6.1,10],[6.27,8],[6.45,6.2],[6.62,4.8],[6.8,3.8],[6.97,3.1],[7.15,2.5],[7.32,2.1],[7.5,1.8],[7.68,1.6],[7.85,1.5],[8.03,1.5],[8.2,2.0],[8.38,2.7],[8.5,2.2],[8.66,1.7],[8.8,2.0],[9.0,2.0],[9.5,null],[10.02,2.7],[10.2,2.6],[10.42,2.5],[10.55,2.2],[10.66,1.9],[10.8,1.6],[10.97,1.4],[11.1,1.25],[11.27,1.1],[11.45,1.05],[11.64,1.0],[11.75,1.1],[11.82,1.7],[11.88,1.2],[11.95,1.0],[12.1,0.95],[12.25,0.9],[12.45,0.8],[12.62,0.72],[12.85,0.65],[13.1,0.58],[13.3,0.53],[13.47,0.48],[13.7,0.4],[14.0,0.38],[14.3,0.38],[14.5,0.4],[14.56,0.6],[14.6,5.2],[14.64,43],[14.7,80],[14.78,130],[14.83,180],[14.88,215],[14.92,160],[14.97,100],[15.05,70],[15.13,46],[15.2,38],[15.31,26],[15.45,18],[15.56,13],[15.7,10],[15.86,8],[16.04,7.4],[16.17,5.9],[16.3,4.8],[16.48,3.6],[16.62,2.8],[16.78,2.1],[16.95,1.8],[17.09,1.6],[17.25,1.4],[17.4,1.2],[17.55,1.05],[17.7,0.9],[17.82,0.78],[18.0,0.66],[18.19,0.62],[18.35,0.55],[18.43,0.5],[18.48,1.0],[18.5,2.5],[18.56,8],[18.62,22],[18.68,40],[18.74,50],[18.9,52],[19.05,54],[19.15,60],[19.24,66],[19.35,58],[19.53,46],[19.62,38],[19.72,29],[19.85,20],[19.97,15.5],[20.1,14],[20.27,13],[20.38,10],[20.45,8],[20.55,6.5],[20.64,5.2],[20.8,4.5],[21.0,3.8],[21.25,3.2],[21.5,2.7],[21.8,2.1],[22.1,1.7],[22.4,1.4],[22.72,1.2],[22.9,1.05],[23.03,0.95],[23.09,0.78],[23.2,0.7],[23.34,0.62],[23.6,0.6],[23.8,0.64],[23.94,0.62],[23.97,0.4],[24.02,0.8],[24.06,1.6],[24.15,2.6],[24.25,3.6],[24.4,5],[24.56,6.5],[24.7,9],[24.86,13],[25.05,16.6],[25.17,15.5],[25.23,22],[25.3,9.1],[25.42,10],[25.54,17.8],[25.65,19],[25.78,20],[25.92,17],[26.09,15.5],[26.25,11],[26.39,8.5],[26.55,7],[26.7,5.9],[26.85,5.3],[27.0,4.8],[27.1,4.0],[27.19,2.5],[27.4,2.2],[27.63,1.9],[27.8,1.7],[27.93,1.5],[28.1,1.35],[28.24,1.2],[28.42,1.05],[28.6,0.9],[28.75,0.82],[28.85,0.78],[29.0,0.85],[29.1,0.98],[29.22,1.6],[29.4,1.65],[29.58,1.6],[29.8,1.9],[30.07,2.3],[30.25,2.5],[30.37,2.7],[30.55,2.6],[30.68,2.5],[30.85,2.3],[31.05,2.1],[31.25,2.2],[31.48,2.1],[31.54,0.98],[31.6,0.6],[31.66,0.4],[32.0,0.3]];

const fluxGold = [[1.0,0.3],[1.84,0.35],[1.9,0.5],[2.0,1.0],[2.05,1.3],[2.12,1.5],[2.19,1.7],[2.28,2.8],[2.37,4.8],[2.42,3.2],[2.47,2.5],[2.55,3.0],[2.62,3.3],[2.7,2.6],[2.8,2.2],[2.9,1.9],[3.0,1.6],[3.1,1.4],[3.18,1.2],[3.28,1.5],[3.39,2.0],[3.46,5],[3.53,13],[3.6,35],[3.67,83],[3.74,130],[3.79,160],[3.87,120],[3.95,89],[4.02,80],[4.09,66],[4.16,35],[4.23,15.5],[4.3,10],[4.37,6.9],[4.44,8],[4.51,6.5],[4.58,4.0],[4.65,2.7],[4.75,1.8],[4.86,1.1],[4.93,1.8],[5.0,2.7],[5.12,3.5],[5.25,4.2],[5.4,3.0],[5.57,2.0],[5.75,1.7],[5.92,1.4],[6.1,1.15],[6.27,0.9],[6.45,0.7],[6.62,0.55],[6.8,0.48],[6.97,0.42],[7.5,0.35],[8.0,0.35],[8.35,0.4],[8.42,0.8],[8.48,0.55],[8.55,0.9],[8.62,0.6],[8.7,0.75],[8.78,0.55],[8.85,0.7],[8.92,0.5],[9.0,0.55],[9.5,null],[10.0,0.55],[10.05,0.45],[10.2,0.35],[14.4,0.35],[14.55,0.5],[14.6,3.8],[14.66,19],[14.72,28],[14.8,33],[14.85,35],[14.9,22],[14.94,15.5],[15.02,14],[15.13,13],[15.22,9.5],[15.31,7.4],[15.45,5],[15.56,3.6],[15.7,2.3],[15.86,1.5],[16.04,1.3],[16.2,1.0],[16.36,0.83],[16.5,0.68],[16.66,0.55],[16.8,0.45],[17.5,0.35],[18.45,0.35],[18.5,0.8],[18.56,5.2],[18.62,10],[18.68,13],[18.8,12],[19.05,10.7],[19.2,9.5],[19.36,8],[19.5,6.8],[19.66,5.2],[19.8,3.5],[19.91,2.5],[20.03,2.0],[20.15,1.7],[20.3,1.6],[20.39,1.5],[20.45,1.0],[20.52,0.78],[20.65,0.68],[20.76,0.6],[20.9,0.55],[21.0,0.5],[21.2,0.4],[22.0,0.35],[24.0,0.35],[24.12,0.5],[24.2,0.6],[24.31,0.7],[24.45,1.1],[24.56,1.5],[24.7,2.0],[24.86,2.5],[25.0,3.2],[25.17,3.8],[25.23,4.5],[25.3,3.0],[25.36,3.0],[25.48,3.8],[25.6,4.5],[25.7,5.5],[25.78,6.5],[25.88,5.0],[25.97,4.1],[26.06,4.5],[26.15,4.8],[26.25,3.2],[26.39,2.1],[26.55,1.8],[26.7,1.5],[26.85,1.4],[27.0,1.3],[27.06,2.3],[27.12,1.2],[27.19,0.83],[27.35,0.7],[27.5,0.6],[27.65,0.55],[27.8,0.5],[28.0,0.45],[28.2,0.5],[28.4,0.45],[28.8,0.4],[29.1,0.45],[29.22,0.52],[29.4,0.56],[29.58,0.6],[29.8,0.6],[30.07,0.62],[30.25,0.7],[30.43,0.75],[30.6,0.8],[30.8,0.83],[30.95,0.78],[31.17,0.72],[31.3,0.68],[31.48,0.62],[31.6,0.5],[31.7,0.35],[32.0,0.3]];

const BLACK = "#000000";
const GOLD = "#ffc000";
const BLUE = "#3a00d6";
const GREEN = "#00ee00";
const FONT = '"Liberation Sans", Arial, sans-serif';

Chart.defaults.font.family = FONT;
Chart.defaults.color = "#111";
Chart.defaults.animation = false;

// IDL style box: frame, inward ticks on all four sides, y labels kept inside the panel
const idlFrame = {
  id: "idlFrame",
  afterDraw(chart, args, opts) {
    const { ctx, chartArea: a } = chart;
    const xs = chart.scales.x;
    const ys = chart.scales.y;
    ctx.save();
    ctx.strokeStyle = "#151515";
    ctx.lineWidth = 2;
    ctx.strokeRect(a.left, a.top, a.right - a.left, a.bottom - a.top);
    ctx.beginPath();
    days.forEach((d) => {
      const px = Math.round(xs.getPixelForValue(d));
      ctx.moveTo(px, a.top);
      ctx.lineTo(px, a.top + opts.xTick);
      ctx.moveTo(px, a.bottom);
      ctx.lineTo(px, a.bottom - opts.xTick);
    });
    const tick = (v, len) => {
      const py = Math.round(ys.getPixelForValue(v));
      if (py < a.top - 1 || py > a.bottom + 1) return;
      ctx.moveTo(a.left, py);
      ctx.lineTo(a.left + len, py);
      ctx.moveTo(a.right, py);
      ctx.lineTo(a.right - len, py);
    };
    opts.minors.forEach((v) => tick(v, 18));
    opts.majors.forEach((v) => tick(v, 34));
    ctx.stroke();

    ctx.fillStyle = "#111";
    ctx.font = "25px " + FONT;
    ctx.textAlign = "right";
    ctx.textBaseline = "middle";
    opts.majors.forEach((v, i) => {
      let py = ys.getPixelForValue(v) + 2;
      py = Math.min(Math.max(py, a.top + 10), a.bottom - 8);
      ctx.fillText(opts.labels[i], a.left - 9, py);
    });
    ctx.restore();
  },
};

function line(data, color, width, extra) {
  return Object.assign({
    data: data,
    borderColor: color,
    borderWidth: width,
    pointRadius: 0,
    tension: 0,
    clip: 0,
    spanGaps: false,
  }, extra || {});
}

function yAxis(opts) {
  return Object.assign({
    display: true,
    grid: { display: false, drawTicks: false },
    border: { display: false },
    ticks: { display: false },
    afterFit: (s) => { s.width = 134; },
  }, opts);
}

const xHidden = { type: "linear", min: 1, max: 32, display: false };

// minor ticks for the linear panels
const vntMinor = [];
for (let v = 0; v <= 1.0001; v += 0.05) vntMinor.push(+v.toFixed(2));
const bMinor = [];
for (let v = -20; v <= 20; v++) bMinor.push(v);
const fluxMinor = [0.5, 0.6, 0.7, 0.8, 0.9];
[1, 10, 100, 1000].forEach((dec) => {
  for (let m = 2; m <= 9; m++) if (m * dec <= 7000) fluxMinor.push(m * dec);
});

new Chart(document.getElementById("vnt"), {
  type: "line",
  data: {
    datasets: [
      line(vntGold, GOLD, 2.6),
      line(vntBlue, BLUE, 3),
      line(vntBlack, BLACK, 3.6),
    ],
  },
  options: {
    responsive: false,
    layout: { padding: { left: 0, right: 2, top: 0, bottom: 5 } },
    plugins: {
      legend: { display: false },
      tooltip: { enabled: false },
      title: {
        display: true,
        text: "August 2010",
        font: { size: 34, weight: "normal" },
        padding: { top: 4, bottom: 7 },
      },
      idlFrame: { xTick: 6, majors: vntTicks, labels: vntLabels, minors: vntMinor },
    },
    scales: {
      x: xHidden,
      y: yAxis({
        min: 0,
        max: 1,
        title: { display: true, text: "V/N/T", font: { size: 33 }, padding: { top: 34, bottom: 0 } },
      }),
    },
  },
  plugins: [idlFrame],
});

new Chart(document.getElementById("bfield"), {
  type: "line",
  data: {
    datasets: [
      line(bGold, GOLD, 3),
      line(bGreen, GREEN, 3),
      line(bBlue, BLUE, 3),
      line(bBlack, BLACK, 2.8),
    ],
  },
  options: {
    responsive: false,
    layout: { padding: { left: 0, right: 2, top: 5, bottom: 4 } },
    plugins: {
      legend: { display: false },
      tooltip: { enabled: false },
      idlFrame: { xTick: 6, majors: bTicks, labels: bLabels, minors: bMinor },
    },
    scales: {
      x: xHidden,
      y: yAxis({
        min: -20,
        max: 20,
        title: { display: true, text: "B nT", font: { size: 28 }, padding: { top: 17, bottom: 0 } },
      }),
    },
  },
  plugins: [idlFrame],
});

new Chart(document.getElementById("ionflux"), {
  type: "line",
  data: {
    datasets: [
      line(fluxGold, GOLD, 5),
      line(fluxBlue, BLUE, 6.5),
      line(fluxBlack, BLACK, 3, { borderDash: [2, 2.5] }),
    ],
  },
  options: {
    responsive: false,
    layout: { padding: { left: 0, right: 2, top: 4, bottom: 0 } },
    plugins: {
      legend: { display: false },
      tooltip: { enabled: false },
      idlFrame: { xTick: 10, majors: fluxTicks, labels: fluxLabels, minors: fluxMinor },
    },
    scales: {
      x: {
        type: "linear",
        min: 1,
        max: 32,
        grid: { display: false, drawTicks: false },
        border: { display: false },
        afterBuildTicks: (s) => { s.ticks = days.map((d) => ({ value: d })); },
        ticks: {
          autoSkip: false,
          maxRotation: 0,
          padding: 18,
          font: { size: 28 },
          callback: (v) => (v <= 31 ? String(v) : ""),
        },
        title: { display: true, text: "August 2010", font: { size: 28 }, padding: { top: 0, bottom: 8 } },
        afterFit: (s) => { s.height = 95; },
      },
      y: yAxis({
        type: "logarithmic",
        min: 0.5,
        max: 7000,
        title: { display: true, text: "IonFlux", font: { size: 29 }, padding: { top: 6, bottom: 0 } },
      }),
    },
  },
  plugins: [idlFrame],
});
</script>
</body>
</html>
